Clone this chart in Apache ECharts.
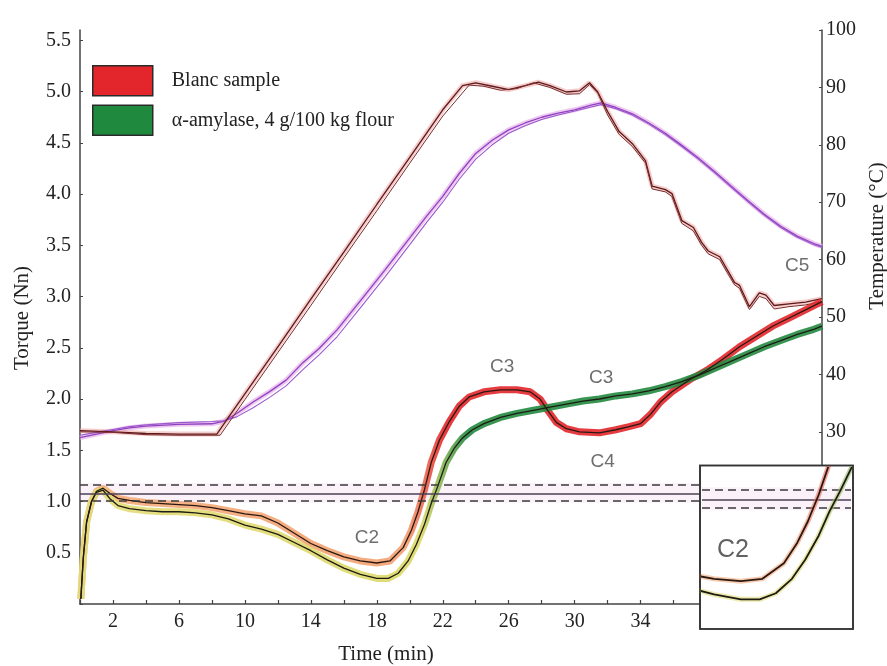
<!DOCTYPE html>
<html>
<head>
<meta charset="utf-8">
<script src="https://cdn.jsdelivr.net/npm/echarts@6/dist/echarts.min.js"></script>
<style>
html,body{margin:0;padding:0;background:#fff;}
#chart{width:887px;height:666px;}
</style>
</head>
<body>
<div id="chart"></div>
<script>
// ---- Data (time in min) ----
const xTickLabels = [2, 6, 10, 14, 18, 22, 26, 30, 34];
const torqueTicks = [0.5, 1.0, 1.5, 2.0, 2.5, 3.0, 3.5, 4.0, 4.5, 5.0, 5.5];
const tempTicks = [30, 40, 50, 60, 70, 80, 90, 100];
const legendNames = ['Blanc sample', 'α-amylase, 4 g/100 kg flour'];

// Torque (Nn) — Blanc sample
const torqueBlanc = [[0.05,0.05],[0.2,0.45],[0.4,0.8],[0.7,1.0],[1.0,1.1],[1.4,1.13],[1.8,1.08],[2.3,1.03],[3,1.01],[4,0.99],[5,0.98],[6,0.97],[7,0.96],[8,0.94],[9,0.91],[10,0.88],[11,0.86],[12,0.79],[13,0.69],[14,0.59],[15,0.52],[16,0.46],[17,0.42],[18,0.40],[18.8,0.42],[19.6,0.55],[20.1,0.72],[20.5,0.9],[20.9,1.12],[21.3,1.38],[21.8,1.6],[22.4,1.78],[23,1.93],[23.6,2.02],[24.5,2.07],[25.5,2.09],[26.5,2.09],[27.3,2.07],[27.9,2.0],[28.4,1.88],[28.9,1.77],[29.5,1.71],[30.3,1.68],[31.5,1.67],[32.5,1.7],[33.3,1.73],[34.0,1.76],[34.6,1.85],[35.2,1.97],[35.9,2.07],[37,2.19],[38,2.28],[39,2.39],[40,2.51],[41,2.61],[42,2.71],[43,2.79],[44,2.87],[45,2.95]];
// Torque (Nn) — α-amylase
const torqueAmylase = [[0.05,0.05],[0.2,0.45],[0.4,0.8],[0.7,1.0],[1.0,1.09],[1.4,1.11],[1.8,1.03],[2.3,0.96],[3,0.93],[4,0.91],[5,0.9],[6,0.9],[7,0.89],[8,0.87],[9,0.83],[10,0.77],[11,0.73],[12,0.68],[13,0.6],[14,0.52],[15,0.43],[16,0.35],[17,0.29],[18,0.25],[18.7,0.25],[19.3,0.3],[19.9,0.42],[20.4,0.58],[20.9,0.78],[21.3,0.98],[21.7,1.15],[22.2,1.38],[22.7,1.52],[23.2,1.62],[23.8,1.7],[24.5,1.76],[25.5,1.82],[26.5,1.86],[27.5,1.89],[28.5,1.92],[29.5,1.95],[30.5,1.98],[31.5,2.0],[32.5,2.03],[33.5,2.05],[34.5,2.08],[35.5,2.12],[36.5,2.17],[37.5,2.23],[38.5,2.3],[39.5,2.37],[40.5,2.44],[41.5,2.51],[42.5,2.57],[43.5,2.63],[44.5,2.68],[45,2.71]];

// Temperature (°C) — set temperature profile, two runs
const tempSetA = [[0,30.2],[2,30.0],[4,29.7],[6,29.6],[8.3,29.6],[9,32.5],[10,36.6],[12,44.8],[14,53.1],[16,61.3],[18,69.6],[20,77.8],[22,86.1],[23.2,90.3],[24,90.8],[25,90.2],[26,89.6],[27,90.3],[27.8,90.9],[28.5,90.3],[29.5,89.2],[30.3,89.4],[30.9,90.8],[31.4,89.2],[32,85.8],[32.7,82.3],[33.5,80.2],[34.3,77.2],[34.7,72.8],[35.5,72.2],[35.9,71.5],[36.5,66.8],[37.2,65.6],[37.7,63.0],[38.1,61.5],[38.8,60.5],[39.3,58],[39.7,56],[40.0,55.5],[40.6,51.8],[41.2,54.2],[41.6,53.8],[42.1,52.0],[43,52.3],[44,52.6],[45,53.2]];
const tempSetB = [[0,30.0],[2,29.9],[4,29.5],[6,29.4],[8.5,29.4],[9.2,32.3],[10,35.6],[12,43.8],[14,52.0],[16,60.3],[18,68.5],[20,76.8],[22,85.0],[23.6,90.4],[24.5,90.2],[25.5,89.5],[26.5,89.8],[27.5,90.8],[28.5,90.0],[29.5,88.8],[30.3,88.9],[30.9,90.5],[31.4,89.0],[32,85.2],[32.7,81.8],[33.5,79.7],[34.3,76.8],[34.7,72.3],[35.5,71.8],[35.9,71.0],[36.5,66.3],[37.2,65.0],[37.7,62.5],[38.1,61.0],[38.8,60.0],[39.3,57.5],[39.7,55.6],[40.0,55.0],[40.6,51.3],[41.2,53.6],[41.6,53.2],[42.1,51.4],[43,51.8],[44,52.1],[45,52.7]];
// Temperature (°C) — measured dough temperature, two runs
const tempDoughA = [[0,29.0],[1,29.6],[2,30.2],[3,30.7],[4,31.0],[6,31.3],[8,31.4],[8.7,31.8],[9.5,33.2],[10.5,35.2],[11.5,37.0],[12.5,39.0],[13.5,42.0],[14.5,44.5],[15.6,47.8],[17,52.8],[18.5,58.2],[20,63.8],[21,67.5],[22,71.0],[23,75.0],[24,78.5],[25,80.8],[26,82.6],[27,83.8],[28,84.8],[29,85.5],[30,86.1],[31,86.9],[31.6,87.3],[32.5,86.5],[33.5,85.4],[34.5,83.8],[35.5,82.0],[36.5,79.9],[37.5,77.7],[38.5,75.3],[39.5,72.8],[40.5,70.3],[41.5,67.9],[42.5,65.8],[43.5,64.1],[44.5,62.8],[45,62.3]];
const tempDoughB = [[0,29.4],[1,29.9],[2,30.4],[3,30.9],[4,31.2],[6,31.6],[8,31.8],[8.7,31.9],[9.5,32.6],[10.5,34.2],[11.5,36.0],[12.5,38.0],[13.5,40.8],[14.5,43.4],[15.6,46.6],[17,51.6],[18.5,57.0],[20,62.6],[21,66.4],[22,70.0],[23,74.0],[24,77.5],[25,80.0],[26,82.0],[27,83.3],[28,84.4],[29,85.2],[30,85.9],[31,86.6],[31.6,87.0],[32.5,86.3],[33.5,85.2],[34.5,83.6],[35.5,81.8],[36.5,79.7],[37.5,77.5],[38.5,75.1],[39.5,72.6],[40.5,70.1],[41.5,67.7],[42.5,65.6],[43.5,63.9],[44.5,62.6],[45,62.1]];

// Reference torque levels (Nn): target and tolerance band
const refTarget = [1.085];
const refTolerance = [1.16, 1.01];

// Phase annotations [label, time, torque]
const phaseNotes = [['C2',17.4,0.65],['C3',25.6,2.31],['C3',31.6,2.21],['C4',31.7,1.39],['C5',43.5,3.30]];
const insetNotes = [['C2',17.7,0.66]];

// ---- Styles ----
const SERIF = 'Liberation Serif';
const SANS = 'Liberation Sans';
const redGrad = {type:'linear',x:0,y:0,x2:1,y2:0,colorStops:[
  {offset:0,color:'#f4ad7c'},{offset:0.44,color:'#f2a070'},{offset:0.49,color:'#e3262b'},{offset:1,color:'#e3262b'}]};
const greenGrad = {type:'linear',x:0,y:0,x2:1,y2:0,colorStops:[
  {offset:0,color:'#e4dc78'},{offset:0.46,color:'#dcd868'},{offset:0.52,color:'#23893f'},{offset:1,color:'#23893f'}]};

function line(name, data, color, width, opts) {
  return Object.assign({
    name: name, type: 'line', data: data, showSymbol: false, symbol: 'none',
    smooth: false, silent: true, animation: false, clip: true,
    lineStyle: {color: color, width: width}
  }, opts || {});
}

function refMarkLine(w, z) {
  return {
    silent: true, symbol: 'none', label: {show: false}, animation: false, z: z,
    data: [
      {yAxis: refTolerance[0], lineStyle: {type: [8, 5], color: '#3a3a3a', width: w}},
      {yAxis: refTarget[0], lineStyle: {type: 'solid', color: '#4b3f55', width: w + 0.1}},
      {yAxis: refTolerance[1], lineStyle: {type: [8, 5], color: '#3a3a3a', width: w}}
    ]
  };
}
function refMarkArea(z) {
  return {
    silent: true, z: z, itemStyle: {color: 'rgba(225,170,215,0.16)'},
    data: [[{yAxis: refTolerance[1] - 0.02}, {yAxis: refTolerance[0] + 0.02}]]
  };
}

function torqueSeries(xi, yi, z, bandW) {
  const main = xi === 0;
  return [
    line(main ? legendNames[0] : '_blancInset', torqueBlanc, redGrad, bandW,
      {xAxisIndex: xi, yAxisIndex: yi, z: z, itemStyle: {color: '#e3262b'}, lineStyle: {color: redGrad, width: bandW, opacity: main ? 0.9 : 0.55},
       markLine: refMarkLine(main ? 1.5 : 1.6, main ? 5 : 11), markArea: refMarkArea(main ? 1 : 10)}),
    line('_blancCore' + xi, torqueBlanc, '#2a1810', main ? 1.3 : 1.8, {xAxisIndex: xi, yAxisIndex: yi, z: z + 1}),
    line(main ? legendNames[1] : '_amyInset', torqueAmylase, greenGrad, bandW,
      {xAxisIndex: xi, yAxisIndex: yi, z: z, itemStyle: {color: '#23893f'}, lineStyle: {color: greenGrad, width: bandW, opacity: main ? 0.9 : 0.55}}),
    line('_amyCore' + xi, torqueAmylase, '#1c1c14', main ? 1.3 : 1.8, {xAxisIndex: xi, yAxisIndex: yi, z: z + 1})
  ];
}

const series = [
  line('_doughHalo', tempDoughA, '#e8b0ea', 5, {yAxisIndex: 1, z: 1, lineStyle: {color: '#e8b0ea', width: 5, opacity: 0.7}}),
  line('_doughA', tempDoughA, '#8d42c2', 1.3, {yAxisIndex: 1, z: 2}),
  line('_doughB', tempDoughB, '#9b58cc', 1.1, {yAxisIndex: 1, z: 2}),
  line('_setHalo', tempSetA, '#f0aaaa', 5, {yAxisIndex: 1, z: 1, lineStyle: {color: '#f0aaaa', width: 5, opacity: 0.6}}),
  line('_setA', tempSetA, '#5a1a1a', 1.3, {yAxisIndex: 1, z: 2}),
  line('_setB', tempSetB, '#7a2c2c', 1.0, {yAxisIndex: 1, z: 2})
].concat(torqueSeries(0, 0, 3, 7))
 .concat(torqueSeries(1, 2, 12, 5))
 .concat([
  {
    name: '_notes', type: 'scatter', xAxisIndex: 0, yAxisIndex: 0, symbolSize: 0, silent: true, z: 6, animation: false,
    data: phaseNotes.map(n => ({value: [n[1], n[2]], name: n[0]})),
    label: {show: true, position: 'inside', formatter: p => p.name, fontFamily: SANS, fontSize: 19, color: '#4a4a4a'}
  },
  {
    name: '_insetNotes', type: 'scatter', xAxisIndex: 1, yAxisIndex: 2, symbolSize: 0, silent: true, z: 14, animation: false,
    data: insetNotes.map(n => ({value: [n[1], n[2]], name: n[0]})),
    label: {show: true, position: 'inside', formatter: p => p.name, fontFamily: SANS, fontSize: 25, color: '#3a3a3a'}
  }
]);

const axisCol = '#444';
const chart = echarts.init(document.getElementById('chart'), null, {renderer: 'canvas'});
chart.setOption({
  backgroundColor: '#fff',
  animation: false,
  grid: [
    {left: 80, right: 65, top: 30, bottom: 62},
    {left: 702, top: 468, width: 149, height: 159}
  ],
  xAxis: [
    {type: 'value', gridIndex: 0, min: 0, max: 45, interval: 2,
     axisLine: {lineStyle: {color: axisCol, width: 1.5}},
     axisTick: {inside: true, length: 4, lineStyle: {color: axisCol, width: 1.2}},
     axisLabel: {margin: 8, fontFamily: SERIF, fontSize: 20, color: '#222',
       formatter: v => (xTickLabels.indexOf(v) >= 0 ? String(v) : '')},
     splitLine: {show: false}},
    {type: 'value', gridIndex: 1, min: 16.55, max: 22.1, show: false, splitLine: {show: false}}
  ],
  yAxis: [
    {type: 'value', gridIndex: 0, position: 'left', min: 0, max: 5.6, interval: 0.5,
     axisLine: {show: true, lineStyle: {color: axisCol, width: 1.5}},
     axisTick: {show: true, inside: true, length: 3, lineStyle: {color: axisCol}},
     axisLabel: {margin: 9, fontFamily: SERIF, fontSize: 20, color: '#222', showMaxLabel: false,
       formatter: v => { const r = Math.round(v * 10) / 10; return torqueTicks.indexOf(r) >= 0 && Math.abs(v - r) < 1e-6 ? r.toFixed(1) : ''; }},
     splitLine: {show: false}},
    {type: 'value', gridIndex: 0, position: 'right', min: 0, max: 100, interval: 10,
     axisLine: {show: true, lineStyle: {color: axisCol, width: 1.5}},
     axisTick: {show: true, inside: true, length: 3, lineStyle: {color: axisCol}},
     axisLabel: {margin: 4, fontFamily: SERIF, fontSize: 20, color: '#222',
       formatter: v => (tempTicks.indexOf(v) >= 0 ? String(v) : '')},
     splitLine: {show: false}},
    {type: 'value', gridIndex: 1, min: 0.02, max: 1.34, show: false, splitLine: {show: false}}
  ],
  legend: {
    show: true, orient: 'vertical', left: 87, top: 60, padding: 5, itemGap: 8,
    itemWidth: 60, itemHeight: 30, icon: 'rect', selectedMode: false,
    textStyle: {fontFamily: SERIF, fontSize: 20, color: '#222', padding: [0, 0, 0, 14]},
    data: [
      {name: legendNames[0], icon: 'rect', itemStyle: {color: '#e3262b', borderColor: '#2a2a2a', borderWidth: 1.5}},
      {name: legendNames[1], icon: 'rect', itemStyle: {color: '#1f8a3e', borderColor: '#2a2a2a', borderWidth: 1.5}}
    ]
  },
  graphic: [
    {type: 'rect', z: 8, shape: {x: 700, y: 465.5, width: 153, height: 163.5},
     style: {fill: '#ffffff', stroke: '#333', lineWidth: 1.6}},
    {type: 'rect', z: 30, shape: {x: 700, y: 465.5, width: 153, height: 163.5},
     style: {fill: 'none', stroke: '#333', lineWidth: 1.6}},
    {type: 'text', z: 20, x: 22, y: 318, rotation: Math.PI / 2,
     style: {text: 'Torque (Nn)', font: '21px "Liberation Serif"', fill: '#222', align: 'center', verticalAlign: 'middle', textAlign: 'center', textVerticalAlign: 'middle'}},
    {type: 'text', z: 20, x: 877, y: 236, rotation: Math.PI / 2,
     style: {text: 'Temperature (°C)', font: '21px "Liberation Serif"', fill: '#222', align: 'center', verticalAlign: 'middle', textAlign: 'center', textVerticalAlign: 'middle'}},
    {type: 'text', z: 20, x: 386, y: 654,
     style: {text: 'Time (min)', font: '21px "Liberation Serif"', fill: '#222', align: 'center', verticalAlign: 'middle', textAlign: 'center', textVerticalAlign: 'middle'}}
  ],
  series: series
});
</script>
</body>
</html>
